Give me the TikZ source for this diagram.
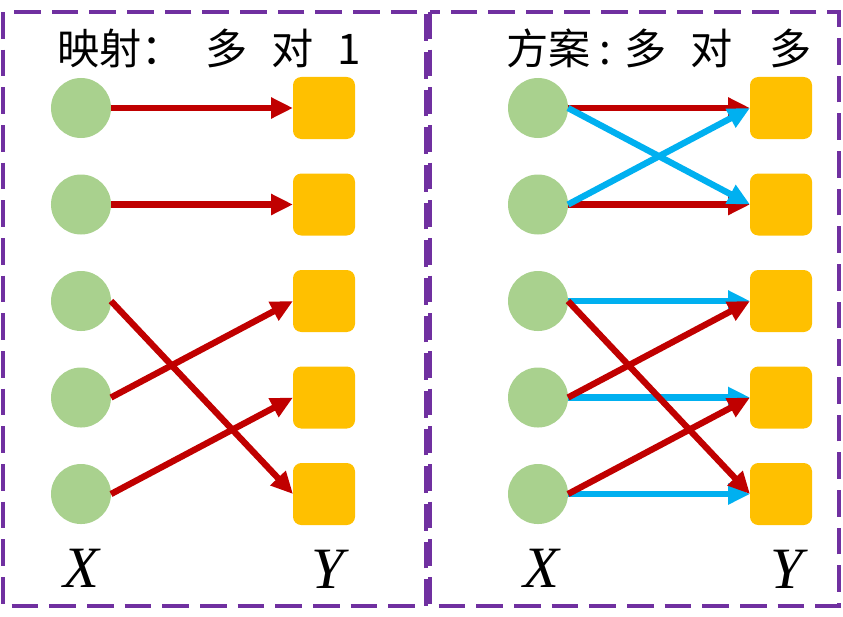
\documentclass[tikz,border=0pt]{standalone}
\usepackage{fontspec}
\newfontfamily\cjk{Noto Sans CJK SC}
\newfontfamily\varfont{Liberation Serif}
\usetikzlibrary{positioning, arrows.meta}

\definecolor{dotgreen}{HTML}{A9D18E}
\definecolor{boxorange}{HTML}{FFC000}
\definecolor{linkred}{HTML}{C00000}
\definecolor{linkblue}{HTML}{00B0F0}
\definecolor{framepurple}{HTML}{7030A0}

\begin{document}
\begin{tikzpicture}[
      x=0.03cm, y=-0.03cm,
      node distance=2.895cm and 7.29cm, on grid,
      src/.style={circle, fill=dotgreen, minimum size=1.8cm,
      inner sep=0pt, outer sep=0pt},
      dst/.style={fill=boxorange, rounded corners=0.25cm,
      minimum size=1.86cm, inner sep=0pt, outer sep=0pt},
      frame/.style={draw=framepurple, line width=0.1cm,
      dash pattern=on 0.8cm off 0.33cm},
      ttl/.style={anchor=west, inner sep=0pt,
      font=\cjk\fontsize{36}{40}\selectfont},
      var/.style={inner sep=0pt,
      font=\varfont\itshape\fontsize{50}{58}\selectfont},
      redlink/.style={draw=linkred, line width=0.19cm,
      -{Triangle[length=0.66cm, width=0.6cm]}},
      bluelink/.style={draw=linkblue, line width=0.19cm,
      -{Triangle[length=0.66cm, width=0.6cm]}}
    ]
    \useasboundingbox (0,0) rectangle (843,616);

    \draw[frame] (3,12) rectangle (426,606);
    \draw[frame] (430,12) rectangle (839,606);

    % many to one
    \node[ttl] (tl) at (57,48) {映射：\hspace{19pt}多\hspace{20pt}对\hspace{20pt}1};

    \node[src] (xl1) at (81,108) {};
    \node[src, below=of xl1] (xl2) {};
    \node[src, below=of xl2] (xl3) {};
    \node[src, below=of xl3] (xl4) {};
    \node[src, below=of xl4] (xl5) {};

    \node[dst, right=of xl1] (yl1) {};
    \node[dst, below=of yl1] (yl2) {};
    \node[dst, below=of yl2] (yl3) {};
    \node[dst, below=of yl3] (yl4) {};
    \node[dst, below=of yl4] (yl5) {};

    \node[var, below=2.22cm of xl5] (lxl) {X};
    \node[var, below=2.25cm of yl5, xshift=0.12cm] (lyl) {Y};

    \draw[redlink] (xl1.east) -- (yl1.west);
    \draw[redlink] (xl2.east) -- (yl2.west);
    \draw[redlink] (xl3.east) -- (yl5.west);
    \draw[redlink] (xl4.east) -- (yl3.west);
    \draw[redlink] (xl5.east) -- (yl4.west);

    % many to many
    \node[ttl] (tr) at (506,48) {方案\hspace{8pt}:\hspace{11pt}多\hspace{20pt}对\hspace{32pt}多};

    \node[src] (xr1) at (538,108) {};
    \node[src, below=of xr1] (xr2) {};
    \node[src, below=of xr2] (xr3) {};
    \node[src, below=of xr3] (xr4) {};
    \node[src, below=of xr4] (xr5) {};

    \node[dst, right=of xr1] (yr1) {};
    \node[dst, below=of yr1] (yr2) {};
    \node[dst, below=of yr2] (yr3) {};
    \node[dst, below=of yr3] (yr4) {};
    \node[dst, below=of yr4] (yr5) {};

    \node[var, below=2.22cm of xr5, xshift=0.09cm] (lxr) {X};
    \node[var, below=2.25cm of yr5, xshift=0.18cm] (lyr) {Y};

    \draw[redlink] (xr1.east) -- (yr1.west);
    \draw[redlink] (xr2.east) -- (yr2.west);
    \draw[bluelink] (xr1.east) -- (yr2.west);
    \draw[bluelink] (xr2.east) -- (yr1.west);

    \draw[bluelink] (xr3.east) -- (yr3.west);
    \draw[bluelink] (xr4.east) -- (yr4.west);
    \draw[bluelink] (xr5.east) -- (yr5.west);
    \draw[redlink] (xr3.east) -- (yr5.west);
    \draw[redlink] (xr4.east) -- (yr3.west);
    \draw[redlink] (xr5.east) -- (yr4.west);
  \end{tikzpicture}
\end{document}
